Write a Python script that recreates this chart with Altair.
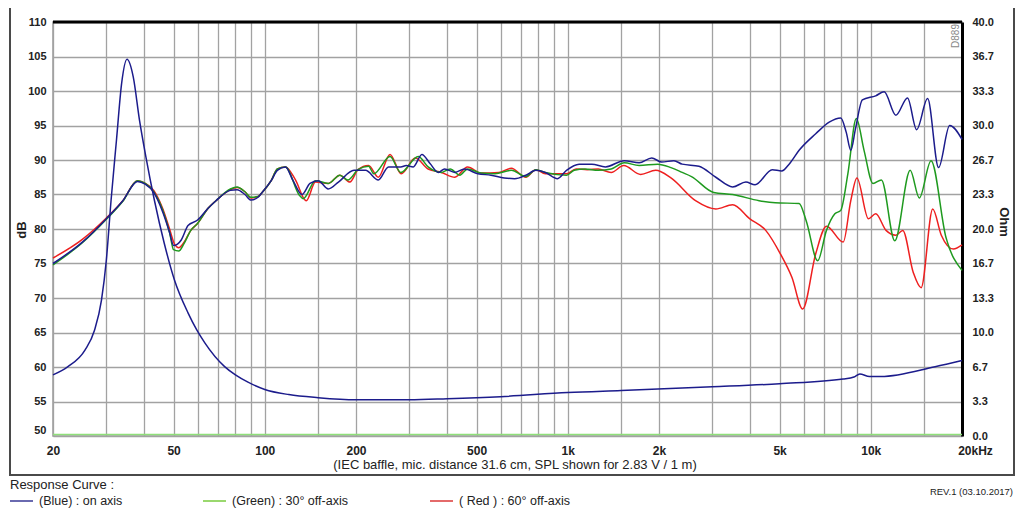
import altair as alt
import pandas as pd

# ---------------- data ----------------
blue_f = [20, 25, 30, 34, 38, 40.3, 43, 46, 48.5, 50, 51.5, 53, 55.8, 60, 65, 69, 77, 81, 86, 90,
          95, 98, 105, 110, 117, 124, 132.6, 141, 150, 162, 175, 197, 215, 237, 256, 281, 293, 309,
          330, 351, 374, 392, 424, 456, 505, 558, 617, 668, 727, 784, 843, 925, 990, 1090, 1201,
          1331, 1536, 1720, 1892, 2040, 2240, 2385, 2710, 3080, 3500, 3870, 4150, 4730, 5080, 5400,
          5800, 6580, 7290, 7960, 8300, 8590, 8900, 9380, 10380, 11070, 12100, 13220, 14170, 15400,
          16740, 18210, 20000]
blue_db = [75.0, 78.1, 81.5, 84.1, 86.9, 86.5, 85.3, 82.5, 79.5, 77.6, 77.8, 78.4, 80.5, 81.3, 83.0,
           84.1, 85.6, 85.7, 85.0, 84.2, 84.6, 85.3, 87.0, 88.5, 89.0, 87.0, 85.0, 86.6, 87.0, 85.8,
           86.8, 88.5, 88.5, 87.1, 89.0, 89.0, 89.2, 89.0, 90.8, 89.5, 88.2, 88.7, 88.2, 88.7, 88.0,
           87.8, 87.4, 87.3, 87.8, 88.5, 88.2, 87.3, 88.5, 89.4, 89.4, 89.0, 89.9, 89.6, 90.3, 89.7,
           89.9, 89.4, 89.1, 87.5, 86.1, 86.8, 86.4, 88.6, 88.4, 89.5, 91.4, 93.8, 95.5, 96.1, 94.0,
           91.4, 94.5, 98.7, 99.3, 99.9, 96.5, 99.0, 94.4, 98.9, 88.9, 95.0, 93.0]

green_f = [20, 25, 30, 34, 38, 40.3, 43, 46, 48.5, 50, 52, 54, 57, 60, 65, 69, 77, 81, 86, 90,
           95, 98, 105, 110, 117, 130, 134, 147, 162, 177, 188, 203, 220, 229, 259, 281, 321, 346,
           383, 409, 440, 467, 518, 575, 651, 727, 784, 843, 990, 1050, 1140, 1260, 1391, 1536,
           1720, 1980, 2190, 2385, 2560, 3030, 3500, 4280, 4840, 5800, 6120, 6680, 7140, 7610,
           7960, 8400, 8960, 9500, 10170, 10840, 12000, 13490, 14460, 15810, 17700, 20000]
green_db = [74.8, 78.0, 81.4, 84.0, 87.0, 86.6, 85.4, 82.8, 79.5, 77.0, 76.8, 77.8, 79.8, 80.8, 83.0,
            84.1, 85.8, 86.1, 85.4, 84.6, 84.7, 85.3, 87.0, 88.7, 89.0, 84.9, 84.4, 87.0, 86.6, 87.8,
            87.1, 88.6, 89.1, 88.0, 90.5, 88.2, 90.5, 89.0, 88.2, 88.7, 87.8, 88.7, 88.1, 88.0, 88.5,
            87.6, 88.6, 88.2, 87.8, 88.5, 88.7, 88.5, 88.7, 89.6, 89.2, 89.4, 88.9, 88.2, 87.6, 85.3,
            85.0, 84.1, 83.8, 83.7, 81.2, 75.4, 79.8, 82.2, 82.7, 88.0, 96.0, 91.4, 86.6, 87.1, 78.3,
            88.5, 84.5, 89.9, 78.8, 74.0]

red_f = [20, 25, 30, 34, 38, 40.3, 43, 46, 48.5, 50.5, 52, 54, 57, 60, 65, 69, 77, 81, 86, 90,
         95, 98, 105, 110, 117, 126, 137, 147, 162, 177, 191, 203, 220, 237, 259, 282, 314, 346, 383,
         424, 467, 518, 592, 651, 727, 784, 843, 990, 1065, 1160, 1260, 1391, 1530, 1740, 1950,
         2190, 2640, 3080, 3500, 3980, 4500, 5030, 5490, 5960, 6580, 7140, 8110, 8590, 9000, 9820,
         10380, 11230, 12100, 12750, 13810, 14660, 16010, 17090, 18730, 20000]
red_db = [75.8, 78.5, 81.6, 84.1, 87.0, 86.6, 85.6, 83.0, 80.0, 77.7, 77.3, 78.0, 79.8, 80.8, 83.0,
          84.1, 85.7, 86.0, 85.4, 84.5, 84.7, 85.3, 87.0, 88.7, 89.0, 87.2, 84.1, 86.8, 86.6, 87.8,
          86.8, 88.6, 89.2, 87.5, 90.8, 88.0, 90.3, 88.7, 88.2, 87.5, 89.0, 88.1, 88.2, 88.8, 87.5,
          88.6, 88.0, 88.0, 88.7, 88.6, 88.7, 88.2, 89.2, 87.9, 88.5, 87.4, 84.1, 82.9, 83.5, 81.5,
          79.8, 76.4, 73.0, 68.4, 76.4, 80.4, 78.1, 84.1, 87.4, 81.5, 82.2, 79.8, 79.1, 79.8, 73.7,
          71.5, 82.9, 79.1, 77.1, 77.7]

imp_f = [20, 22.4, 25.5, 27.4, 28.9, 30, 31.1, 32.4, 33.7, 35.1, 36.8, 38.6, 40.5, 43.2, 46.6,
         50.3, 55.8, 59.5, 63.4, 73.7, 80, 88, 100, 120, 150, 200, 300, 400, 600, 1000, 1500, 3000,
         5000, 8100, 8800, 9200, 9900, 10800, 16300, 20000]
imp_ohm = [5.9, 6.7, 8.3, 10.2, 13.1, 17.0, 22.8, 28.6, 34.1, 36.4, 34.7, 30.5, 27.0, 22.8, 18.6,
           15.1, 11.9, 10.3, 9.0, 6.7, 5.9, 5.2, 4.5, 4.0, 3.7, 3.5, 3.5, 3.6, 3.8, 4.2, 4.4, 4.75,
           5.05, 5.5, 5.7, 6.0, 5.75, 5.75, 6.7, 7.3]

base_f = [20, 20000]
base_ohm = [0.15, 0.15]

grid_freqs = [20, 30, 40, 50, 60, 70, 80, 90, 100, 150, 200, 300, 400, 500, 600, 700, 800, 900,
              1000, 1500, 2000, 3000, 4000, 5000, 6000, 7000, 8000, 9000, 10000, 15000, 20000]
db_ticks = [50, 55, 60, 65, 70, 75, 80, 85, 90, 95, 100, 105, 110]
ohm_ticks = [0, 10 / 3, 20 / 3, 10, 40 / 3, 50 / 3, 20, 70 / 3, 80 / 3, 30, 100 / 3, 110 / 3, 40]

# ---------------- styling ----------------
FONT = "Liberation Sans"
C_BLUE = "#1c1c8c"
C_GREEN = "#1f9a1f"
C_RED = "#ee1f1f"
GRID = "#a2a2a2"

xscale = alt.Scale(type="log", domain=[20, 20000], nice=False)
dbscale = alt.Scale(domain=[50, 110], nice=False, zero=False)
ohmscale = alt.Scale(domain=[0, 40], nice=False)

label_expr = ("datum.value == 20 ? '20' : datum.value == 50 ? '50' : datum.value == 100 ? '100' : "
              "datum.value == 200 ? '200' : datum.value == 500 ? '500' : datum.value == 1000 ? '1k' : "
              "datum.value == 2000 ? '2k' : datum.value == 5000 ? '5k' : datum.value == 10000 ? '10k' : "
              "datum.value == 20000 ? '20kHz' : ''")

xaxis = alt.Axis(values=grid_freqs, labelExpr=label_expr, grid=True, gridColor=GRID, gridWidth=1.3,
                 ticks=False, domain=False, labelFont=FONT, labelFontWeight="bold", labelFontSize=12,
                 labelColor="#222", labelPadding=9, labelOverlap=False, labelBound=False,
                 labelFlush=False, title=None,
                 labelOffset={"condition": {"test": "datum.value == 20000", "value": 13}, "value": 0})

dbaxis = alt.Axis(values=db_ticks, grid=True, gridColor=GRID, gridWidth=1.3, ticks=False,
                  domain=False, labelFont=FONT, labelFontWeight="bold", labelFontSize=11,
                  labelColor="#222", labelPadding=7, title=None,
                  labelOffset={"condition": {"test": "datum.value == 50", "value": -6}, "value": 0})

ohmaxis = alt.Axis(orient="right", values=ohm_ticks, format=".1f", grid=False, ticks=False,
                   domain=True, domainColor="#000", domainWidth=3, labelFont=FONT,
                   labelFontWeight="bold", labelFontSize=11, labelColor="#222", labelPadding=10,
                   title=None)


def spl_line(freqs, vals, color):
    df = pd.DataFrame({"f": freqs, "db": vals})
    return alt.Chart(df).mark_line(color=color, strokeWidth=1.5, interpolate="monotone").encode(
        x=alt.X("f:Q", scale=xscale, axis=xaxis),
        y=alt.Y("db:Q", scale=dbscale, axis=dbaxis),
    )


top_border = alt.Chart(pd.DataFrame({"f": [20], "f2": [20000], "db": [110]})).mark_rule(
    color="#000", strokeWidth=3).encode(
    x=alt.X("f:Q", scale=xscale, axis=xaxis), x2="f2:Q",
    y=alt.Y("db:Q", scale=dbscale, axis=dbaxis))

spl = alt.layer(
    spl_line(red_f, red_db, C_RED),
    spl_line(green_f, green_db, C_GREEN),
    spl_line(blue_f, blue_db, C_BLUE),
    top_border,
)

imp_df = pd.DataFrame({"f": imp_f, "ohm": imp_ohm})
base_df = pd.DataFrame({"f": base_f, "ohm": base_ohm})
imp = alt.layer(
    alt.Chart(base_df).mark_line(color="#8fe07a", strokeWidth=1.5).encode(
        x=alt.X("f:Q", scale=xscale, axis=xaxis),
        y=alt.Y("ohm:Q", scale=ohmscale, axis=ohmaxis)),
    alt.Chart(imp_df).mark_line(color=C_BLUE, strokeWidth=1.5, interpolate="monotone").encode(
        x=alt.X("f:Q", scale=xscale, axis=xaxis),
        y=alt.Y("ohm:Q", scale=ohmscale, axis=ohmaxis)),
)

plot = alt.layer(spl, imp).resolve_scale(y="independent")


def text(t, x, y, size=13, weight="normal", color="#222", align="left", angle=0, baseline="middle"):
    return alt.Chart(pd.DataFrame({"t": [t]})).mark_text(
        font=FONT, fontSize=size, fontWeight=weight, color=color, align=align, angle=angle,
        baseline=baseline).encode(x=alt.value(x), y=alt.value(y), text="t:N")


def sample(x1, x2, y, color):
    return alt.Chart(pd.DataFrame({"k": [0]})).mark_rule(color=color, strokeWidth=2).encode(
        x=alt.value(x1), x2=alt.value(x2), y=alt.value(y))


frame = alt.Chart(pd.DataFrame({"k": [0]})).mark_rect(
    fill=None, fillOpacity=0, stroke="#4a4a4a", strokeWidth=2).encode(
    x=alt.value(-43), x2=alt.value(961), y=alt.value(-15), y2=alt.value(453))

LEG_Y = 479
annotations = [
    frame,
    text("dB", -31, 208, size=13, weight="bold", align="center", angle=270),
    text("Ohm", 951, 200, size=13, weight="bold", align="center", angle=90),
    text("(IEC baffle, mic. distance 31.6 cm, SPL shown for 2.83 V / 1 m)", 462, 443, size=13,
         align="center"),
    text("D889", 903, 14, size=10, color="#888", align="center", angle=270),
    text("Response Curve :", -43, 463, size=13),
    sample(-43, -20, LEG_Y, "#6a6ab0"),
    text("(Blue)  : on axis", -14, LEG_Y, size=12.5),
    sample(150, 173, LEG_Y, "#9ad86e"),
    text("(Green) : 30° off-axis", 179, LEG_Y, size=12.5),
    sample(377, 400, LEG_Y, "#e46a6a"),
    text("( Red ) : 60° off-axis", 406, LEG_Y, size=12.5),
    text("REV.1 (03.10.2017)", 960, 470, size=9.5, align="right"),
]

chart = alt.layer(plot, *annotations).properties(
    width=909, height=414,
    autosize=alt.AutoSizeParams(type="none"),
    padding={"left": 45, "top": 14, "right": 54, "bottom": 73},
    background="white",
).configure_view(stroke="#9a9a9a", strokeWidth=1.5)

chart.save("out.html", embed_options={"renderer": "svg", "actions": False})
